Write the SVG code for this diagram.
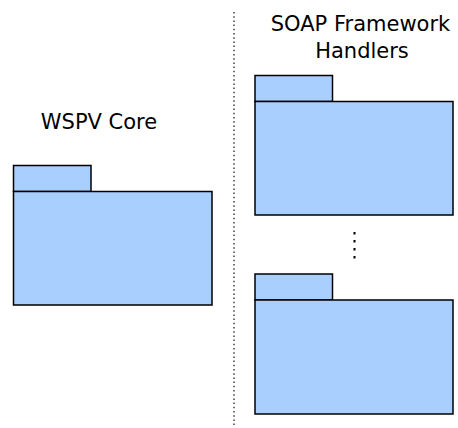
<svg xmlns="http://www.w3.org/2000/svg" width="458" height="428" viewBox="0 0 458 428">
<style>
.pkg{fill:#a8cfff;stroke:#000;stroke-width:1.5}
.lbl{font-family:"DejaVu Sans",sans-serif;font-size:21px;fill:#000;text-anchor:middle}
</style>
<rect width="458" height="428" fill="#fff"/>
<g id="connectors">
<line x1="234" y1="12" x2="234" y2="426" stroke="#222" stroke-width="1.3" stroke-dasharray="1.5,2.7"/>
</g>
<g id="wspv-core">
<text class="lbl" x="99" y="129">WSPV Core</text>
<rect class="pkg" x="13.5" y="165.5" width="77.5" height="26"/>
<rect class="pkg" x="13.5" y="191.5" width="198.5" height="113.5"/>
</g>
<g id="soap-handlers-label">
<text class="lbl" x="360.5" y="31">SOAP Framework</text>
<text class="lbl" x="362" y="58">Handlers</text>
</g>
<g id="handler-1">
<rect class="pkg" x="255" y="75.5" width="77.5" height="26"/>
<rect class="pkg" x="255" y="101.5" width="198" height="113.5"/>
</g>
<g id="ellipsis">
<rect x="353.5" y="232" width="2" height="2.5" fill="#000"/>
<rect x="353.5" y="240" width="2" height="2.5" fill="#000"/>
<rect x="353.5" y="248" width="2" height="2.5" fill="#000"/>
<rect x="353.5" y="256" width="2" height="2.5" fill="#000"/>
</g>
<g id="handler-n">
<rect class="pkg" x="255" y="274" width="77.5" height="26"/>
<rect class="pkg" x="255" y="300" width="198" height="114"/>
</g>
</svg>
